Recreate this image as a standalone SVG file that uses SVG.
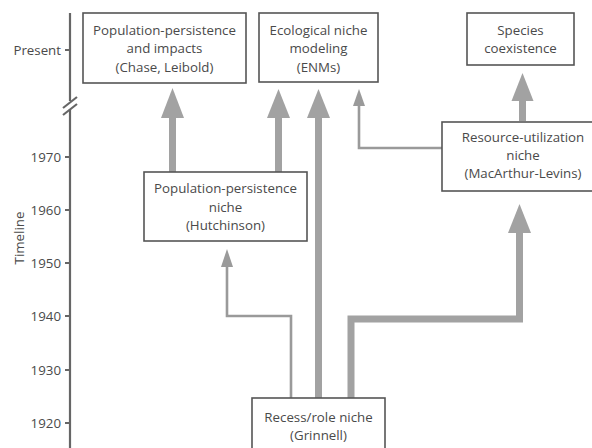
<svg xmlns="http://www.w3.org/2000/svg" width="592" height="448" viewBox="0 0 592 448">
<style>
.box{fill:#fff;stroke:#555;stroke-width:1.6}
.t{font-family:"Open Sans","Liberation Sans",sans-serif;font-size:13.3px;fill:#4a4a4a;text-anchor:middle}
.ax{font-family:"Open Sans","Liberation Sans",sans-serif;font-size:13.3px;fill:#4a4a4a;text-anchor:end}
.axis{stroke:#666;stroke-width:2.2;fill:none}
.thick{stroke:#a2a2a2;stroke-width:7;fill:none}
.thin{stroke:#9a9a9a;stroke-width:2.6;fill:none}
.hd{fill:#a2a2a2}
.hd2{fill:#9a9a9a}
</style>
<rect width="592" height="448" fill="#fff"/>
<g id="axis">
<path class="axis" d="M70 13V101M70 109V448"/>
<path class="axis" d="M63 108L77 97M63 115L77 104"/>
<path class="axis" d="M65 50H70M65 157H70M65 210H70M65 263H70M65 316H70M65 370H70M65 423H70"/>
<text class="ax" x="61" y="54.5">Present</text>
<text class="ax" x="61" y="161.5">1970</text>
<text class="ax" x="61" y="214.5">1960</text>
<text class="ax" x="61" y="267.5">1950</text>
<text class="ax" x="61" y="320.5">1940</text>
<text class="ax" x="61" y="374.5">1930</text>
<text class="ax" x="61" y="427.5">1920</text>
<text class="ax" style="text-anchor:middle" transform="translate(23.5 238) rotate(-90)">Timeline</text>
</g>
<g id="connectors">
<path class="thick" d="M172.5 172V115"/>
<path class="hd" d="M172.5 88L161 118H184Z"/>
<path class="thick" d="M278.5 172V115"/>
<path class="hd" d="M278.5 89L267 118H290Z"/>
<path class="thick" d="M318.5 398V115"/>
<path class="hd" d="M318.5 89L307 118H330Z"/>
<path class="thick" d="M351 398V319H519.5V229"/>
<path class="hd" d="M519.5 204L508 233H531Z"/>
<path class="thick" d="M522.5 121V97"/>
<path class="hd" d="M522.5 73L511.5 101H533.5Z"/>
<path class="thin" d="M291 398V316H227V265"/>
<path class="hd2" d="M227 249L221 267H233Z"/>
<path class="thin" d="M442 148H359V103"/>
<path class="hd2" d="M359 89L353 106H365Z"/>
</g>
<g id="chase">
<rect class="box" x="83" y="13" width="163" height="70"/>
<text class="t" x="164.5" y="34.5">Population-persistence</text>
<text class="t" x="164.5" y="52.5">and impacts</text>
<text class="t" x="164.5" y="71.5">(Chase, Leibold)</text>
</g>
<g id="enm">
<rect class="box" x="259" y="13" width="119" height="69"/>
<text class="t" x="318.5" y="34.5">Ecological niche</text>
<text class="t" x="318.5" y="52.5">modeling</text>
<text class="t" x="318.5" y="71.5">(ENMs)</text>
</g>
<g id="coexistence">
<rect class="box" x="467" y="13" width="107" height="52"/>
<text class="t" x="520.5" y="34.5">Species</text>
<text class="t" x="520.5" y="52.5">coexistence</text>
</g>
<g id="macarthur">
<rect class="box" x="442" y="122" width="162" height="69"/>
<text class="t" x="523" y="141.5">Resource-utilization</text>
<text class="t" x="523" y="159.5">niche</text>
<text class="t" x="523" y="177.5">(MacArthur-Levins)</text>
</g>
<g id="hutchinson">
<rect class="box" x="144" y="172" width="163" height="69"/>
<text class="t" x="225.5" y="192.5">Population-persistence</text>
<text class="t" x="225.5" y="211.5">niche</text>
<text class="t" x="225.5" y="229.5">(Hutchinson)</text>
</g>
<g id="grinnell">
<rect class="box" x="252" y="398" width="133" height="60"/>
<text class="t" x="318.5" y="421.5">Recess/role niche</text>
<text class="t" x="318.5" y="439.5">(Grinnell)</text>
</g>
</svg>
